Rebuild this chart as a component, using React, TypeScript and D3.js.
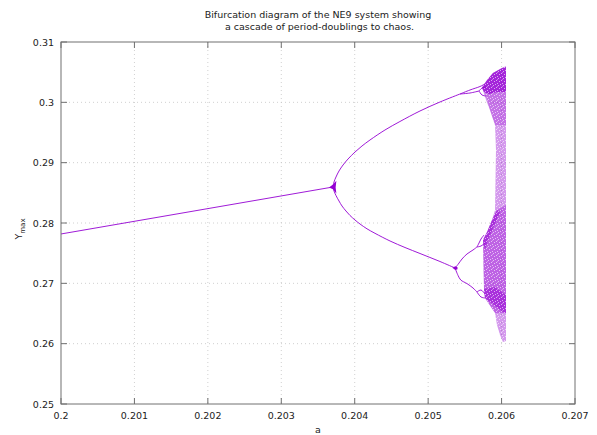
import React from "react";
import * as d3 from "d3";

// ---------- data ----------
const xTicks = [0.2, 0.201, 0.202, 0.203, 0.204, 0.205, 0.206, 0.207];
const xTickLabels = ["0.2", "0.201", "0.202", "0.203", "0.204", "0.205", "0.206", "0.207"];
const yTicks = [0.25, 0.26, 0.27, 0.28, 0.29, 0.3, 0.31];
const yTickLabels = ["0.25", "0.26", "0.27", "0.28", "0.29", "0.3", "0.31"];

const titleLines = ["Bifurcation diagram of the NE9 system showing", " a cascade of period-doublings to chaos."];

// period-1 branch
const period1: [number, number][] = [
  [0.2, 0.27818],
  [0.203704, 0.285967],
];
// period-2 upper branch
const upperBranch: [number, number][] = [
  [0.203704, 0.285967], [0.203718, 0.286796], [0.203745, 0.287624], [0.203786, 0.288619],
  [0.203841, 0.289613], [0.203909, 0.290608], [0.204004, 0.291768], [0.204099, 0.292762],
  [0.204208, 0.293757], [0.204412, 0.295414], [0.204616, 0.296823], [0.204889, 0.298564],
  [0.205161, 0.300055], [0.205434, 0.301381],
];
// period-4 pieces of the upper branch
const upperA: [number, number][] = [
  [0.205434, 0.301381], [0.20557, 0.302044], [0.205706, 0.302624], [0.205774, 0.303039],
];
const upperB: [number, number][] = [
  [0.205434, 0.301381], [0.20557, 0.301547], [0.205693, 0.301879],
];
const upperB1: [number, number][] = [
  [0.205693, 0.301879], [0.205734, 0.302376], [0.205788, 0.302541],
];
const upperB2: [number, number][] = [
  [0.205693, 0.301879], [0.205734, 0.301216], [0.205788, 0.30105],
];
// period-2 lower branch
const lowerBranch: [number, number][] = [
  [0.203704, 0.285967], [0.203718, 0.285304], [0.203745, 0.284558], [0.203786, 0.283646],
  [0.203827, 0.282818], [0.203881, 0.281989], [0.203936, 0.281243], [0.204004, 0.280497],
  [0.204072, 0.279834], [0.204167, 0.279039], [0.204276, 0.278293], [0.204481, 0.277017],
  [0.204685, 0.275939], [0.204889, 0.274945], [0.205161, 0.273619], [0.205366, 0.272541],
];
// period-4 pieces of the lower branch
const lowerUp: [number, number][] = [
  [0.205366, 0.272541], [0.205407, 0.273139], [0.205461, 0.274033], [0.205529, 0.274862],
  [0.205611, 0.275525], [0.205665, 0.276022],
];
const lowerUpA: [number, number][] = [
  [0.205665, 0.276022], [0.205693, 0.276685], [0.20572, 0.277348], [0.205761, 0.278011],
];
const lowerUpB: [number, number][] = [
  [0.205665, 0.276022], [0.20572, 0.276188], [0.205774, 0.276685],
];
const lowerDown: [number, number][] = [
  [0.205366, 0.272541], [0.205407, 0.271315], [0.205444, 0.270553], [0.205529, 0.269955],
  [0.205611, 0.269227], [0.205665, 0.268564],
];
const lowerDownA: [number, number][] = [
  [0.205665, 0.268564], [0.20572, 0.268895], [0.205774, 0.268232],
];
const lowerDownB: [number, number][] = [
  [0.205665, 0.268564], [0.20572, 0.267735], [0.205774, 0.267569],
];
// small dense spots at the bifurcation points
const node1: [number, number][] = [
  [0.20365, 0.28589], [0.203704, 0.2864], [0.20375, 0.287], [0.20374, 0.2859],
  [0.20375, 0.2849], [0.203704, 0.2856],
];
const node2: [number, number][] = [
  [0.20533, 0.27257], [0.20537, 0.27285], [0.2054, 0.27265], [0.2054, 0.27235],
  [0.20537, 0.27222],
];

// chaotic region outlines with relative density
const chaosEnvelope: [number, number][] = [
  [0.205733, 0.302541], [0.205802, 0.303702], [0.205883, 0.304862], [0.206006, 0.305691],
  [0.20606, 0.306022], [0.20606, 0.260442], [0.206019, 0.260276], [0.205979, 0.261436],
  [0.205938, 0.263094], [0.205911, 0.265083], [0.205774, 0.267569], [0.205761, 0.268895],
  [0.205747, 0.277182], [0.205802, 0.278508], [0.20587, 0.280497], [0.205911, 0.282155],
  [0.205924, 0.292099], [0.205911, 0.296243], [0.205842, 0.298729], [0.205788, 0.300387],
  [0.205761, 0.301381],
];
const chaosUpperDense: [number, number][] = [
  [0.205733, 0.302376], [0.205802, 0.303702], [0.205883, 0.304862], [0.206006, 0.305691],
  [0.20606, 0.305856], [0.20606, 0.301713], [0.205938, 0.301713], [0.205829, 0.301381],
  [0.205761, 0.301713],
];
const chaosUpperMedium: [number, number][] = [
  [0.205774, 0.301713], [0.20606, 0.301713], [0.20606, 0.296243], [0.205911, 0.296243],
  [0.205842, 0.298729],
];
const chaosLowerMedium: [number, number][] = [
  [0.205938, 0.282155], [0.20606, 0.282983], [0.20606, 0.265083], [0.205911, 0.265083],
  [0.205774, 0.267569], [0.205761, 0.268895], [0.205747, 0.277182], [0.205802, 0.278508],
  [0.20587, 0.280497],
];
const chaosDiagonal: [number, number][] = [
  [0.205747, 0.277182], [0.205802, 0.278508], [0.20587, 0.280497], [0.205938, 0.282155],
  [0.205979, 0.281823], [0.205897, 0.279503], [0.205815, 0.277182], [0.205774, 0.275525],
];
const chaosFan: [number, number][] = [
  [0.205761, 0.269061], [0.205911, 0.269392], [0.20606, 0.268066], [0.20606, 0.265083],
  [0.206019, 0.265249], [0.205774, 0.267569],
];

const chaosLayers: { pts: [number, number][]; op: number }[] = [
  { pts: chaosEnvelope, op: 0.4 },
  { pts: chaosUpperMedium, op: 0.25 },
  { pts: chaosLowerMedium, op: 0.35 },
  { pts: chaosUpperDense, op: 0.75 },
  { pts: chaosDiagonal, op: 0.5 },
  { pts: chaosFan, op: 0.5 },
];

// ---------- layout ----------
const W = 597;
const H = 435;
const M = { left: 61, right: 22, top: 42, bottom: 31 };
const PURPLE = "#9400d3";
const FONT = "'DejaVu Sans', sans-serif";

export default function App() {
  const x = d3.scaleLinear().domain([0.2, 0.207]).range([M.left, W - M.right]);
  const y = d3.scaleLinear().domain([0.25, 0.31]).range([H - M.bottom, M.top]);
  const line = d3.line<[number, number]>().x((d) => x(d[0])).y((d) => y(d[1]));
  const curve = d3
    .line<[number, number]>()
    .x((d) => x(d[0]))
    .y((d) => y(d[1]))
    .curve(d3.curveCatmullRom.alpha(0.5));
  const poly = (pts: [number, number][]) => line(pts) + "Z";

  const branches = [period1, upperBranch, upperA, upperB, upperB1, upperB2, lowerBranch, lowerUp, lowerUpA, lowerUpB, lowerDown, lowerDownA, lowerDownB];

  const x0 = M.left, x1 = W - M.right, y0 = M.top, y1 = H - M.bottom;
  const tick = 6;

  return (
    <svg width={W} height={H} style={{ position: "absolute", left: 0, top: 0, display: "block", background: "#fff" }} fontFamily={FONT}>
      <defs>
        <pattern id="speckle" width="5" height="7" patternUnits="userSpaceOnUse">
          <rect x="0" y="0" width="1" height="1" fill="#fff" />
          <rect x="3" y="1" width="1" height="1" fill="#fff" />
          <rect x="1" y="3" width="1" height="1" fill="#fff" />
          <rect x="4" y="4" width="1" height="1" fill="#fff" />
          <rect x="2" y="6" width="1" height="1" fill="#fff" />
          <rect x="2" y="2" width="1" height="1" fill="#fff" opacity="0.6" />
        </pattern>
        <clipPath id="plotclip">
          <rect x={x0} y={y0} width={x1 - x0} height={y1 - y0} />
        </clipPath>
      </defs>

      {/* grid */}
      <g stroke="#c4c4c4" strokeWidth={0.8} strokeDasharray="1,3">
        {xTicks.slice(1, -1).map((t) => (
          <line key={"gx" + t} x1={x(t)} x2={x(t)} y1={y0} y2={y1} />
        ))}
        {yTicks.slice(1, -1).map((t) => (
          <line key={"gy" + t} x1={x0} x2={x1} y1={y(t)} y2={y(t)} />
        ))}
      </g>

      {/* data */}
      <g clipPath="url(#plotclip)">
        {chaosLayers.map((l, i) => (
          <path key={"c" + i} d={poly(l.pts)} fill={PURPLE} fillOpacity={l.op} stroke="none" />
        ))}
        <path d={poly(chaosEnvelope)} fill="url(#speckle)" opacity={0.6} />
        {branches.map((b, i) => (
          <path key={"b" + i} d={curve(b) || ""} fill="none" stroke={PURPLE} strokeWidth={0.9} strokeLinejoin="round" />
        ))}
        <path d={poly(node1)} fill={PURPLE} />
        <path d={poly(node2)} fill={PURPLE} />
      </g>

      {/* border */}
      <rect x={x0} y={y0} width={x1 - x0} height={y1 - y0} fill="none" stroke="#707070" strokeWidth={1} />

      {/* ticks */}
      <g stroke="#707070" strokeWidth={1}>
        {xTicks.map((t) => (
          <g key={"tx" + t}>
            <line x1={x(t)} x2={x(t)} y1={y1} y2={y1 - tick} />
            <line x1={x(t)} x2={x(t)} y1={y0} y2={y0 + tick} />
          </g>
        ))}
        {yTicks.map((t) => (
          <g key={"ty" + t}>
            <line x1={x0} x2={x0 + tick} y1={y(t)} y2={y(t)} />
            <line x1={x1} x2={x1 - tick} y1={y(t)} y2={y(t)} />
          </g>
        ))}
      </g>

      {/* tick labels */}
      <g fontSize={9.5} fill="#222">
        {xTicks.map((t, i) => (
          <text key={"lx" + t} x={x(t)} y={y1 + 15} textAnchor="middle">
            {xTickLabels[i]}
          </text>
        ))}
        {yTicks.map((t, i) => (
          <text key={"ly" + t} x={x0 - 7} y={y(t) + 3.5} textAnchor="end">
            {yTickLabels[i]}
          </text>
        ))}
      </g>

      {/* axis labels */}
      <text x={(x0 + x1) / 2} y={433} textAnchor="middle" fontSize={9.5} fill="#222">
        a
      </text>
      <text transform={`translate(22,${(y0 + y1) / 2 + 6}) rotate(-90)`} textAnchor="middle" fontSize={9.5} fill="#222">
        Y<tspan fontSize={7} dy={3}>max</tspan>
      </text>

      {/* title */}
      <g fontSize={9.5} fill="#222" textAnchor="middle">
        <text x={(x0 + x1) / 2} y={18} style={{ whiteSpace: "pre" }}>{titleLines[0]}</text>
        <text x={(x0 + x1) / 2} y={30} style={{ whiteSpace: "pre" }}>{titleLines[1]}</text>
      </g>
    </svg>
  );
}
